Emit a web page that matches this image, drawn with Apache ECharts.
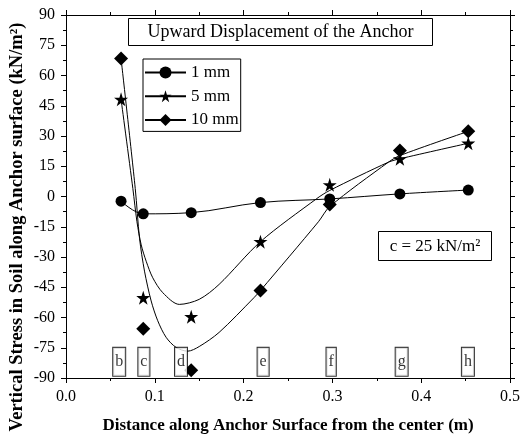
<!DOCTYPE html>
<html>
<head>
<meta charset="utf-8">
<script src="https://cdn.jsdelivr.net/npm/echarts@6/dist/echarts.min.js"></script>
<style>html,body{margin:0;padding:0;background:#fff;}#c{width:523px;height:439px;}</style>
</head>
<body>
<div id="c"></div>
<script>
// Measured points (x in m, vertical stress in kN/m2)
const xPos = [0.062, 0.087, 0.141, 0.219, 0.297, 0.376, 0.453];
const stress1mm = [-2.3, -8.6, -8.0, -3.0, -1.2, 1.3, 3.2];
const stress5mm = [48.2, -50.2, -59.6, -22.4, 5.8, 18.7, 26.4];
const stress10mm = [68.4, -65.6, -86.2, -46.6, -4.0, 22.8, 32.4];

// Fitted curves
const curve5X = [0.062, 0.0753, 0.0799, 0.0847, 0.0903, 0.0977, 0.109, 0.1276, 0.15, 0.1724, 0.219, 0.2825, 0.297, 0.363, 0.376, 0.453];
const curve5Y = [48.2, 3.9, -12.5, -24, -32.1, -40.3, -47.7, -53.5, -51, -43.6, -22.4, -1, 3, 17, 18.7, 26.4];
const curve10X = [0.062, 0.078, 0.0828, 0.0884, 0.0959, 0.1033, 0.1127, 0.1239, 0.137, 0.15, 0.1724, 0.2116, 0.219, 0.2843, 0.297, 0.363, 0.376, 0.453];
const curve10Y = [68.4, 3.9, -20.7, -37, -51.8, -61.6, -69.8, -74.8, -76.7, -74.4, -67.4, -50.2, -46.6, -12.5, -5, 17, 20.3, 32.3];

// Location labels
const locNames = ['b', 'c', 'd', 'e', 'f', 'g', 'h'];
const locX = [0.0599, 0.0877, 0.1295, 0.222, 0.2986, 0.378, 0.4526];
const locY = -82;

const seriesNames = ['1 mm', '5 mm', '10 mm'];
const titleText = 'Upward Displacement of the Anchor';
const noteText = 'c = 25 kN/m²';
const xTitle = 'Distance along Anchor Surface from the center (m)';
const yTitle = 'Vertical Stress in Soil along Anchor surface (kN/m²)';

const SERIF = '"Liberation Serif", "DejaVu Serif", serif';
const STAR = 'path://M50,0 L61.2,34.5 L97.6,34.5 L68.2,55.9 L79.4,90.5 L50,69.1 L20.6,90.5 L31.8,55.9 L2.4,34.5 L38.8,34.5 Z';

const zip = (xs, ys) => xs.map((x, i) => [x, ys[i]]);

const chart = echarts.init(document.getElementById('c'), null, {renderer: 'canvas'});

const axisCommon = () => ({
  axisLine: {show: true, onZero: false, lineStyle: {color: '#000', width: 1}},
  axisTick: {show: true, inside: false, length: 5, lineStyle: {color: '#000', width: 1}},
  minorTick: {show: true, splitNumber: 2, length: 3, lineStyle: {color: '#000', width: 1}},
  splitLine: {show: false},
  minorSplitLine: {show: false}
});

chart.setOption({
  animation: false,
  backgroundColor: '#fff',
  grid: {left: 66, right: 10, top: 15, bottom: 58, containLabel: false},
  xAxis: [
    Object.assign({
      type: 'value', min: 0, max: 0.5, interval: 0.1, position: 'bottom',
      name: xTitle, nameLocation: 'middle', nameGap: 39,
      nameTextStyle: {fontFamily: SERIF, fontSize: 17, fontWeight: 'bold', color: '#000'},
      axisLabel: {fontFamily: SERIF, fontSize: 16, color: '#000', margin: 11,
        formatter: v => v.toFixed(1)}
    }, axisCommon()),
    Object.assign({
      type: 'value', min: 0, max: 0.5, interval: 0.1, position: 'top',
      axisLabel: {show: false}
    }, axisCommon())
  ],
  yAxis: [
    Object.assign({
      type: 'value', min: -90, max: 90, interval: 15, position: 'left',
      axisLabel: {fontFamily: SERIF, fontSize: 16, color: '#000', margin: 11}
    }, axisCommon()),
    Object.assign({
      type: 'value', min: -90, max: 90, interval: 15, position: 'right',
      axisLabel: {show: false}
    }, axisCommon())
  ],
  legend: {
    data: seriesNames,
    orient: 'vertical',
    left: 143, top: 59,
    padding: [5, 2, 3, 1],
    itemWidth: 41, itemHeight: 15, itemGap: 6.7,
    borderColor: '#000', borderWidth: 1, borderRadius: 0,
    backgroundColor: '#fff',
    textStyle: {fontFamily: SERIF, fontSize: 17, color: '#000'},
    selectedMode: false
  },
  graphic: [
    {
      type: 'group', left: 128, top: 18,
      children: [
        {type: 'rect', shape: {x: 0, y: 0, width: 304, height: 27},
         style: {fill: '#fff', stroke: '#000', lineWidth: 1}},
        {type: 'text', x: 152, y: 14,
         style: {text: titleText, align: 'center', verticalAlign: 'middle',
                 font: '18px ' + SERIF, fill: '#000'}}
      ]
    },
    {
      type: 'group', left: 378, top: 231,
      children: [
        {type: 'rect', shape: {x: 0, y: 0, width: 113, height: 29},
         style: {fill: '#fff', stroke: '#000', lineWidth: 1}},
        {type: 'text', x: 56.5, y: 15,
         style: {text: noteText, align: 'center', verticalAlign: 'middle',
                 font: '17px ' + SERIF, fill: '#000'}}
      ]
    },
    {
      type: 'text', x: 17, y: 227, rotation: Math.PI / 2,
      style: {text: yTitle, align: 'center', verticalAlign: 'middle',
              font: 'bold 18.5px ' + SERIF, fill: '#000'}
    }
  ],
  series: [
    {
      name: seriesNames[0], type: 'line', data: zip(xPos, stress1mm),
      smooth: 0.35, symbol: 'circle', symbolSize: 11, showSymbol: true,
      lineStyle: {color: '#000', width: 1}, itemStyle: {color: '#000', opacity: 1}, z: 3
    },
    {
      name: seriesNames[1], type: 'line', data: zip(curve5X, curve5Y),
      smooth: 0.3, symbol: STAR, symbolSize: 13, showSymbol: false,
      lineStyle: {color: '#000', width: 1}, itemStyle: {color: '#000', opacity: 1}, z: 2
    },
    {
      name: seriesNames[2], type: 'line', data: zip(curve10X, curve10Y),
      smooth: 0.3, symbol: 'diamond', symbolSize: 14, showSymbol: false,
      lineStyle: {color: '#000', width: 1}, itemStyle: {color: '#000', opacity: 1}, z: 2
    },
    {
      name: '5 mm points', type: 'scatter', data: zip(xPos, stress5mm),
      symbol: STAR, symbolSize: 14, itemStyle: {color: '#000', opacity: 1}, z: 4
    },
    {
      name: '10 mm points', type: 'scatter', data: zip(xPos, stress10mm),
      symbol: 'diamond', symbolSize: 14, itemStyle: {color: '#000', opacity: 1}, z: 4
    },
    {
      name: 'locations', type: 'scatter', symbolSize: 0,
      data: locX.map((x, i) => ({value: [x, locY], name: locNames[i]})),
      label: {
        show: true, position: 'inside', formatter: p => p.name,
        fontFamily: SERIF, fontSize: 16, lineHeight: 18, color: '#000',
        backgroundColor: '#fff', borderColor: '#000', borderWidth: 1,
        padding: [5, 2, 5, 2]
      },
      z: 5
    }
  ]
});
</script>
</body>
</html>
